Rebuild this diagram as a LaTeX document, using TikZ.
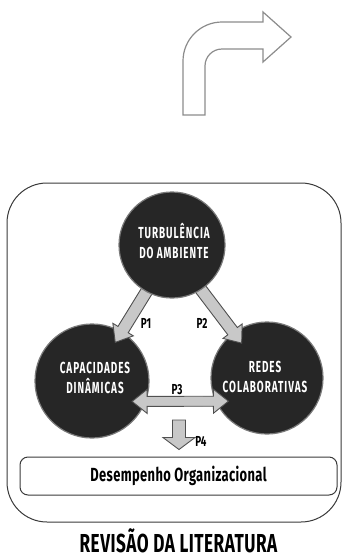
\documentclass[tikz,border=0pt]{standalone}
\usepackage{fontspec}
\setmainfont{Fira Sans}
\newfontfamily\bubblefont[FakeStretch=0.62, LetterSpace=6]{Fira Sans}
\newfontfamily\labelfont[FakeStretch=0.68]{Fira Sans}
\newfontfamily\boxfont[FakeStretch=0.68, LetterSpace=2]{Fira Sans}
\newfontfamily\titlefont[FakeStretch=0.66, LetterSpace=2]{Fira Sans}
\usetikzlibrary{calc}

\definecolor{bubblefill}{HTML}{262626}
\definecolor{bubbleline}{HTML}{7A7A7A}
\definecolor{arrowfill}{HTML}{C8C8C8}
\definecolor{arrowline}{HTML}{505050}
\definecolor{frameline}{HTML}{3A3A3A}
\definecolor{bentline}{HTML}{8C8C8C}

\tikzset{
  bubble/.style={circle, fill=bubblefill, draw=bubbleline, line width=1.2pt, inner sep=0pt},
  bubbletext/.style={text=white, align=center, inner sep=0pt,
    font=\bubblefont\bfseries\fontsize{16}{19.5}\selectfont},
  arrowbody/.style={fill=arrowfill, draw=arrowline, line width=0.9pt, line join=miter},
  plabel/.style={font=\labelfont\bfseries\fontsize{14.5}{16}\selectfont, text=black, inner sep=0pt},
  outerframe/.style={draw=frameline, line width=1pt, rounded corners=40pt},
  resultbox/.style={draw=frameline, line width=1pt, rounded corners=8pt,
    minimum width=317pt, minimum height=38pt, inner sep=0pt,
    font=\boxfont\bfseries\fontsize{19}{21}\selectfont},
  titletext/.style={font=\titlefont\bfseries\fontsize{26}{28}\selectfont, inner sep=0pt},
  bentarrow/.style={fill=white, draw=bentline, line width=1.2pt, line join=miter}
}

% single block arrow from #1 to #2: shaft half width #3, head half width #4, head length #5
\newcommand\blockarrow[5]{%
  \draw[arrowbody] let \p1=(#1), \p2=(#2),
      \n1={atan2(\y2-\y1,\x2-\x1)}, \n2={veclen(\x2-\x1,\y2-\y1)} in
    [shift={(\p1)}, rotate=\n1]
    (0,-#3) -- ({\n2-#5},-#3) -- ({\n2-#5},-#4) -- (\n2,0) --
    ({\n2-#5},#4) -- ({\n2-#5},#3) -- (0,#3) -- cycle;}
% double block arrow between #1 and #2
\newcommand\doubleblockarrow[5]{%
  \draw[arrowbody] let \p1=(#1), \p2=(#2),
      \n1={atan2(\y2-\y1,\x2-\x1)}, \n2={veclen(\x2-\x1,\y2-\y1)} in
    [shift={(\p1)}, rotate=\n1]
    (0,0) -- (#5,-#4) -- (#5,-#3) -- ({\n2-#5},-#3) -- ({\n2-#5},-#4) -- (\n2,0) --
    ({\n2-#5},#4) -- ({\n2-#5},#3) -- (#5,#3) -- (#5,#4) -- cycle;}

\begin{document}
\begin{tikzpicture}[x=1pt, y=-1pt]
\useasboundingbox (0,0) rectangle (347,560);

% turning arrow at the top
\draw[bentarrow] (183,115) -- (183,61)
  .. controls (183,39.5) and (200.5,22) .. (222,22)
  -- (263,22) -- (263,12) -- (291,37) -- (263,62) -- (263,49) -- (222,49)
  .. controls (212.6,49) and (205,56.6) .. (205,66)
  -- (205,115) -- cycle;

% frame around the model
\draw[outerframe] (7,183) rectangle (341,522);

% constructs
\node[bubble, minimum size=114pt] (cap) at (92,381) {};
\node[bubble, minimum size=112pt] (red) at (267,378) {};

% propositions P1 and P2 leave the environment circle
\coordinate (p1start) at ($(172,245)+(242:42pt)$);
\coordinate (p2start) at ($(172,245)+(302:42pt)$);
\blockarrow{p1start}{$(cap.center)+(59:45pt)$}{6}{12}{15}
\blockarrow{p2start}{$(red.center)+(126:43pt)$}{6}{12}{15}

\node[bubble, minimum size=106pt] (turb) at (172,245) {};

% circle captions
\node[bubbletext] (turbtext) at ($(turb.center)+(2,-4)$) {TURBULÊNCIA\\DO AMBIENTE};
\node[bubbletext] (captext) at ($(cap.center)+(3,-3)$) {CAPACIDADES\\DINÂMICAS};
\node[bubbletext] (redtext) at ($(red.center)+(-2,-1)$) {REDES\\COLABORATIVAS};

% proposition P3 between the two constructs
\doubleblockarrow{$(cap.center)+(-27:45pt)$}{$(red.center)+(211:45pt)$}{5}{12}{15}

% outcome
\node[resultbox] (perf) at (178.5,476) {Desempenho Organizacional};
\coordinate (p4start) at (179,420);
\blockarrow{p4start}{$(perf.north)+(0.5pt,7pt)$}{6.5}{16}{12}

% proposition labels
\node[plabel] (l1) at (146,323) {P1};
\node[plabel] (l2) at (202,323) {P2};
\node[plabel] (l3) at (177,390) {P3};
\node[plabel] (l4) at (201,441) {P4};

\node[titletext, anchor=base] (title) at (178.5,552) {REVISÃO DA LITERATURA};
\end{tikzpicture}
\end{document}
